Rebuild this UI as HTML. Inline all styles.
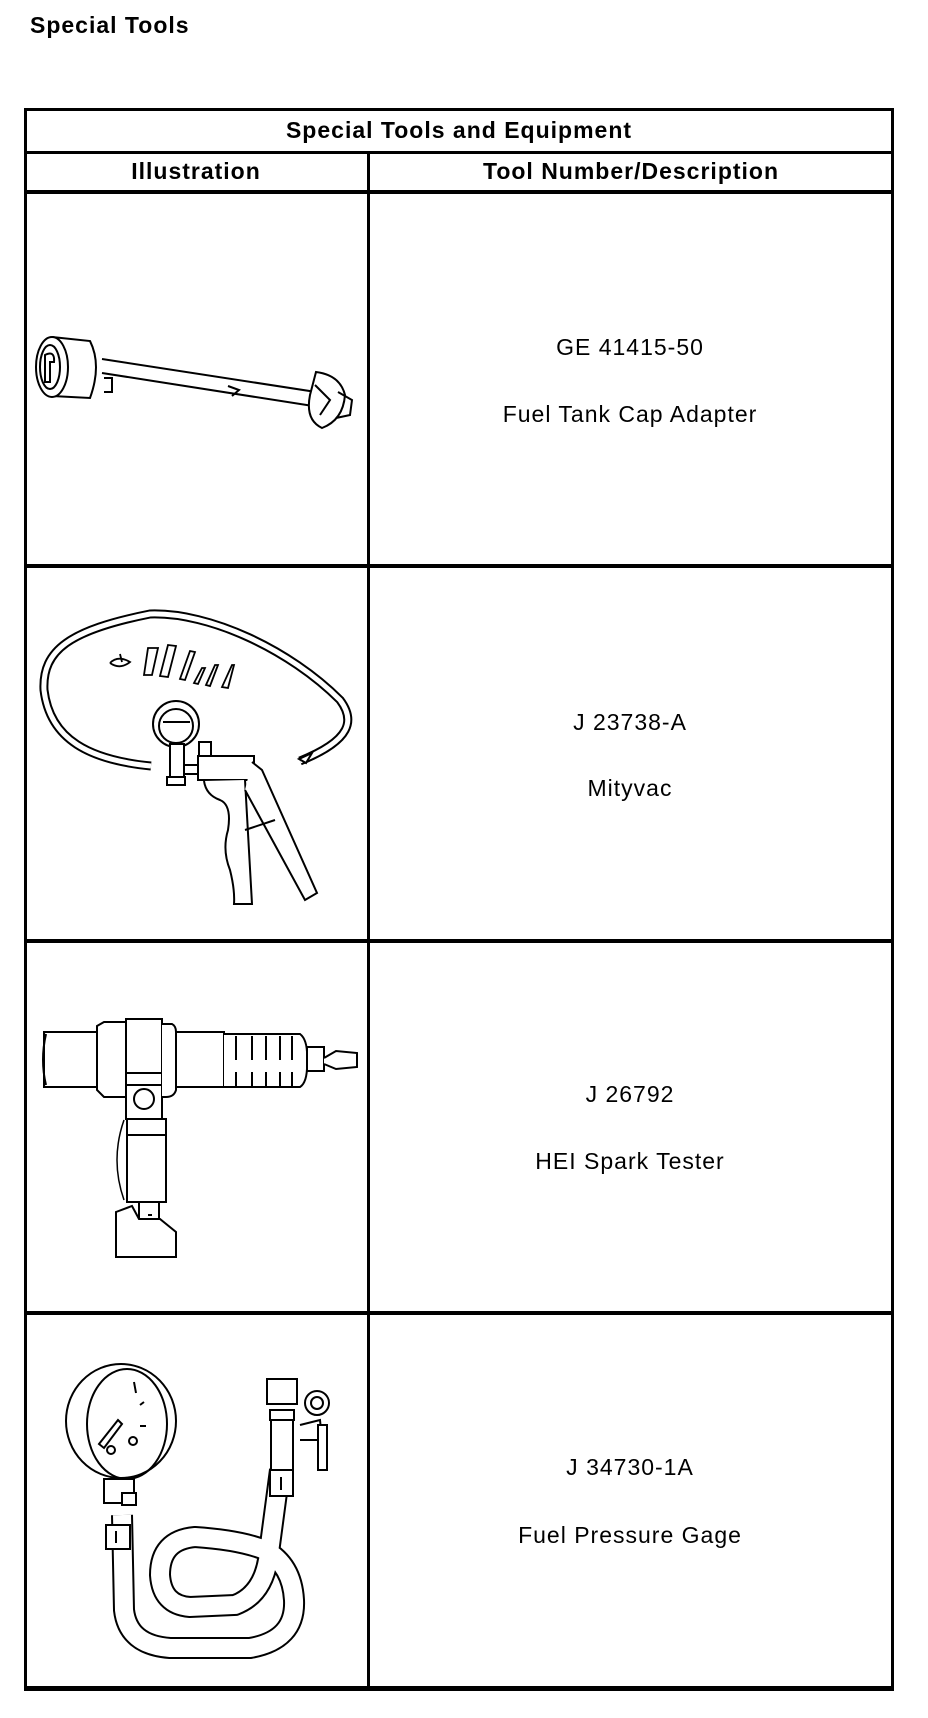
<!DOCTYPE html>
<html><head><meta charset="utf-8"><style>
html,body{margin:0;padding:0;background:#fff;}
body{width:928px;height:1718px;position:relative;overflow:hidden;font-family:"Liberation Sans",Arial,sans-serif;color:#000;}
.t{position:absolute;white-space:nowrap;line-height:1;}
.b{font-weight:bold;font-size:23px;letter-spacing:1px;}
.d{font-size:23px;letter-spacing:1px;transform:translateX(-50%);}
.c{transform:translateX(-50%);}
.ln{position:absolute;background:#000;}
</style></head><body>
<div class="t b" style="left:30px;top:14px;">Special Tools</div>

<div class="ln" style="left:24px;top:108px;width:870px;height:3px;"></div>
<div class="ln" style="left:24px;top:108px;width:3px;height:1582px;"></div>
<div class="ln" style="left:891px;top:108px;width:3px;height:1582px;"></div>
<div class="ln" style="left:24px;top:151px;width:870px;height:3px;"></div>
<div class="ln" style="left:24px;top:190px;width:870px;height:4px;"></div>
<div class="ln" style="left:367px;top:151px;width:3px;height:1539px;"></div>
<div class="ln" style="left:24px;top:564px;width:870px;height:4px;"></div>
<div class="ln" style="left:24px;top:939px;width:870px;height:4px;"></div>
<div class="ln" style="left:24px;top:1311px;width:870px;height:4px;"></div>
<div class="ln" style="left:24px;top:1686px;width:870px;height:5px;"></div>

<div class="t b c" style="left:459px;top:119px;">Special Tools and Equipment</div>
<div class="t b c" style="left:196px;top:160px;">Illustration</div>
<div class="t b c" style="left:631px;top:160px;">Tool Number/Description</div>

<div class="t d" style="left:630px;top:336px;">GE 41415-50</div>
<div class="t d" style="left:630px;top:403px;">Fuel Tank Cap Adapter</div>
<div class="t d" style="left:630px;top:711px;">J 23738-A</div>
<div class="t d" style="left:630px;top:777px;">Mityvac</div>
<div class="t d" style="left:630px;top:1083px;">J 26792</div>
<div class="t d" style="left:630px;top:1150px;">HEI Spark Tester</div>
<div class="t d" style="left:630px;top:1456px;">J 34730-1A</div>
<div class="t d" style="left:630px;top:1524px;">Fuel Pressure Gage</div>

<svg width="928" height="1718" style="position:absolute;left:0;top:0" fill="none" stroke="#000" stroke-width="2">
<g>
<path d="M102 359 L316 392 L313 406 L102 373" fill="#fff"/>
<path d="M52 337 L90 341 Q102 365 90 398 L52 396" fill="#fff"/>
<ellipse cx="52" cy="367" rx="16" ry="30" fill="#fff"/>
<ellipse cx="50" cy="367" rx="10" ry="22"/>
<path d="M45 355 Q55 350 54 362 L50 362 L50 382 L45 382 Z"/>
<path d="M104 378 L112 378 L112 392 L104 392"/>
<path d="M228 386 L239 390 L232 396"/>
<path d="M316 372 Q340 375 345 395 Q343 420 322 428 Q305 420 310 395 Z" fill="#fff"/>
<path d="M315 385 L330 400 L320 415"/>
<path d="M338 392 L352 400 L350 415 L336 418"/>
</g>
<g>
<path d="M151 766 C90 760 50 740 44 690 C42 650 70 630 150 614 C210 612 290 650 340 700 C355 720 352 740 300 761" stroke-width="9"/>
<path d="M151 766 C90 760 50 740 44 690 C42 650 70 630 150 614 C210 612 290 650 340 700 C355 720 352 740 300 761" stroke="#fff" stroke-width="5"/>
<path d="M299 759 L312 753 L306 763 Z" fill="#fff"/>
<g stroke-width="1.8">
<path d="M110 663 Q118 655 130 662 Q120 670 110 663"/><path d="M120 654 L122 662"/>
<path d="M148 648 L158 648 L152 675 L144 675 Z"/>
<path d="M168 645 L176 646 L168 677 L160 676 Z"/>
<path d="M190 651 L195 652 L185 680 L180 679 Z"/>
<path d="M202 668 L205 668 L198 684 L194 683 Z"/>
<path d="M215 665 L218 665 L210 686 L206 685 Z"/>
<path d="M232 665 L234 665 L228 688 L222 687 Z"/>
</g>
<circle cx="176" cy="724" r="23" fill="#fff"/>
<circle cx="176" cy="726" r="17"/>
<path d="M163 722 L190 722"/>
<rect x="170" y="744" width="14" height="34" fill="#fff"/>
<rect x="167" y="777" width="18" height="8" fill="#fff"/>
<path d="M184 765 L197 765 M184 774 L197 774"/>
<rect x="198" y="756" width="56" height="24" fill="#fff"/>
<rect x="199" y="742" width="12" height="14" fill="#fff"/>
<path d="M204 781 Q206 795 220 800 Q232 805 228 830 Q222 850 230 870 Q235 890 234 904 L252 904 L245 780" fill="#fff"/>
<path d="M252 762 L262 770 L317 893 L305 900 L245 790" fill="#fff"/>
<path d="M245 830 L275 820"/>
</g>
<g>
<rect x="44" y="1032" width="53" height="55" fill="#fff"/>
<path d="M46 1034 Q40 1060 46 1085"/>
<path d="M97 1026 L104 1022 L127 1022 L127 1097 L104 1097 L97 1090 Z" fill="#fff"/>
<rect x="126" y="1019" width="36" height="100" fill="#fff"/>
<path d="M127 1073 L162 1073 M127 1085 L162 1085"/>
<circle cx="144" cy="1099" r="10"/>
<path d="M162 1024 L172 1024 Q176 1026 176 1032 L176 1090 Q174 1097 166 1097 L162 1097" fill="#fff"/>
<rect x="176" y="1032" width="48" height="55" fill="#fff"/>
<path d="M224 1034 L300 1034 Q308 1040 307 1060 Q308 1082 300 1087 L224 1087" fill="#fff"/>
<path d="M236 1036 L236 1060 M252 1036 L252 1060 M266 1036 L266 1060 M280 1036 L280 1060 M292 1036 L292 1060"/>
<path d="M236 1072 L236 1087 M252 1072 L252 1087 M266 1072 L266 1087 M280 1072 L280 1087 M292 1072 L292 1087"/>
<rect x="307" y="1047" width="17" height="24" fill="#fff"/>
<path d="M324 1058 L336 1051 L357 1053 L357 1067 L336 1069 L324 1064" fill="#fff"/>
<rect x="127" y="1119" width="39" height="83" fill="#fff"/>
<path d="M127 1135 L166 1135"/>
<path d="M124 1120 Q110 1160 124 1200" stroke-width="1.5"/>
<path d="M139 1202 L139 1219 M159 1202 L159 1219"/>
<path d="M116 1212 L132 1206 L139 1219 L160 1219 L176 1232 L176 1257 L116 1257 Z" fill="#fff"/>
<path d="M148 1215 L152 1215"/>
</g>
<g>
<path d="M122 1515 L124 1610 Q128 1645 170 1648 L250 1648 Q296 1640 294 1600 Q292 1565 265 1550 Q240 1540 195 1537 Q160 1540 160 1575 Q162 1605 190 1607 L235 1605 Q262 1595 268 1560 L280 1470" stroke-width="22"/>
<path d="M122 1515 L124 1610 Q128 1645 170 1648 L250 1648 Q296 1640 294 1600 Q292 1565 265 1550 Q240 1540 195 1537 Q160 1540 160 1575 Q162 1605 190 1607 L235 1605 Q262 1595 268 1560 L280 1470" stroke="#fff" stroke-width="18"/>
<rect x="106" y="1525" width="24" height="24" fill="#fff"/>
<path d="M116 1531 L116 1543"/>
<rect x="270" y="1470" width="23" height="26" fill="#fff"/>
<path d="M281 1477 L281 1490"/>
<rect x="271" y="1420" width="22" height="50" fill="#fff"/>
<rect x="270" y="1410" width="24" height="10" fill="#fff"/>
<rect x="267" y="1379" width="30" height="25" fill="#fff"/>
<circle cx="317" cy="1403" r="12" fill="#fff"/><circle cx="317" cy="1403" r="6"/>
<path d="M300 1425 L320 1420 L322 1440 L300 1440" fill="#fff"/>
<rect x="318" y="1425" width="9" height="45" fill="#fff"/>
<rect x="104" y="1479" width="30" height="24" fill="#fff"/>
<rect x="122" y="1493" width="14" height="12" fill="#fff"/>
<ellipse cx="121" cy="1421" rx="55" ry="57" fill="#fff"/>
<ellipse cx="127" cy="1424" rx="40" ry="55"/>
<path d="M99 1444 L118 1420 L122 1424 L104 1448 Z"/>
<circle cx="111" cy="1450" r="4"/><circle cx="133" cy="1441" r="4"/>
<path d="M134 1382 L136 1393 M140 1405 L144 1402 M140 1426 L146 1426"/>
</g>
</svg>
</body></html>
